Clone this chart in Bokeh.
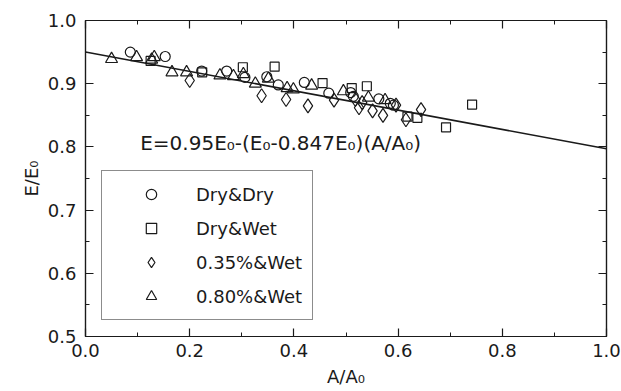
from bokeh.plotting import figure
from bokeh.models import (Range1d, LinearAxis, FixedTicker, PrintfTickFormatter,
                          Legend, LegendItem, CustomJSTickFormatter, Label)
from bokeh.embed import file_html
from bokeh.resources import INLINE

# ---- data ----
dry_dry_x = [0.086, 0.153, 0.223, 0.271, 0.306, 0.348, 0.370, 0.420, 0.467, 0.509, 0.514, 0.563, 0.585, 0.591]
dry_dry_y = [0.950, 0.943, 0.920, 0.920, 0.910, 0.911, 0.898, 0.902, 0.885, 0.886, 0.880, 0.876, 0.869, 0.866]

dry_wet_x = [0.125, 0.224, 0.302, 0.363, 0.455, 0.511, 0.540, 0.618, 0.637, 0.692, 0.742]
dry_wet_y = [0.936, 0.918, 0.926, 0.927, 0.901, 0.893, 0.896, 0.848, 0.846, 0.831, 0.867]

p035_wet_x = [0.200, 0.338, 0.385, 0.427, 0.477, 0.518, 0.525, 0.531, 0.551, 0.571, 0.596, 0.615, 0.644]
p035_wet_y = [0.905, 0.881, 0.875, 0.865, 0.874, 0.875, 0.862, 0.870, 0.857, 0.850, 0.866, 0.843, 0.859]

p080_wet_x = [0.050, 0.098, 0.127, 0.132, 0.166, 0.194, 0.258, 0.284, 0.303, 0.326, 0.351, 0.387, 0.399, 0.434, 0.495, 0.543, 0.575]
p080_wet_y = [0.939, 0.942, 0.938, 0.942, 0.918, 0.918, 0.913, 0.912, 0.915, 0.900, 0.908, 0.893, 0.891, 0.897, 0.888, 0.878, 0.874]

# fitted relation E = 0.95 E0 - (E0 - 0.847 E0)(A/A0)
fit_a = 0.95
fit_b = 0.847
fit_x = [0.0, 1.0]
fit_y = [fit_a - (1.0 - fit_b) * x for x in fit_x]

series_labels = ["Dry&Dry", "Dry&Wet", "0.35%&Wet", "0.80%&Wet"]
x_ticks = [0.0, 0.2, 0.4, 0.6, 0.8, 1.0]
x_minor = [0.1, 0.3, 0.5, 0.7, 0.9]
y_ticks = [0.5, 0.6, 0.7, 0.8, 0.9, 1.0]
y_minor = [0.55, 0.65, 0.75, 0.85, 0.95]

FONT = "DejaVu Sans"
INK = "#1a1a1a"

p = figure(width=621, height=391,
           x_range=Range1d(0, 1), y_range=Range1d(0.5, 1.0),
           output_backend="svg", toolbar_location=None,
           min_border_left=85, min_border_right=15, min_border_top=20, min_border_bottom=55)
p.grid.visible = False
p.outline_line_color = INK
p.outline_line_width = 1.2
p.background_fill_color = "white"
p.border_fill_color = "white"

def style_axis(ax, ticks, minor):
    ax.ticker = FixedTicker(ticks=ticks, minor_ticks=minor)
    ax.axis_line_color = INK
    ax.axis_line_width = 1.2
    ax.major_tick_line_color = INK
    ax.minor_tick_line_color = INK
    ax.major_tick_line_width = 1.2
    ax.minor_tick_line_width = 1.0
    ax.major_tick_in = 8
    ax.major_tick_out = 0
    ax.minor_tick_in = 4
    ax.minor_tick_out = 0
    ax.major_label_text_font = FONT
    ax.major_label_text_font_size = "18px"
    ax.major_label_text_color = INK
    ax.axis_label_text_font = FONT
    ax.axis_label_text_font_size = "18px"
    ax.axis_label_text_font_style = "normal"
    ax.axis_label_text_color = INK

xa = p.xaxis[0]
ya = p.yaxis[0]
style_axis(xa, x_ticks, x_minor)
style_axis(ya, y_ticks, y_minor)
xa.formatter = PrintfTickFormatter(format="%.1f")
ya.formatter = PrintfTickFormatter(format="%.1f")
xa.axis_label = "A/A₀"
ya.axis_label = "E/E₀"
xa.major_label_standoff = 7
xa.axis_label_standoff = 6
ya.major_label_standoff = 9
ya.axis_label_standoff = 3

blank = CustomJSTickFormatter(code="return ''")
top = LinearAxis(formatter=blank, major_label_standoff=0)
right = LinearAxis(formatter=blank, major_label_standoff=0)
style_axis(top, x_ticks, x_minor)
style_axis(right, y_ticks, y_minor)
p.add_layout(top, "above")
p.add_layout(right, "right")

# fit line
p.line(fit_x, fit_y, line_color=INK, line_width=1.5)

common = dict(fill_color=None, line_color=INK, line_width=1.2)
r1 = p.scatter(dry_dry_x, dry_dry_y, marker="circle", size=10, **common)
r2 = p.scatter(dry_wet_x, dry_wet_y, marker="square", size=9, **common)
r3 = p.scatter(p035_wet_x, p035_wet_y, marker="diamond", size=14, **common)
r4 = p.scatter(p080_wet_x, p080_wet_y, marker="triangle", size=12, **common)

legend = Legend(items=[LegendItem(label=lab, renderers=[r]) for lab, r in
                       zip(series_labels, [r1, r2, r3, r4])],
                location=(16, 16), margin=0, padding=10, spacing=8,
                glyph_width=78, glyph_height=26, label_height=26, label_standoff=6,
                label_text_font=FONT, label_text_font_size="18px", label_text_color=INK,
                border_line_color=INK, border_line_width=1.2,
                background_fill_color="white", background_fill_alpha=1.0)
p.add_layout(legend, "center")

eq = Label(x=0.105, y=0.806, text="E=0.95E₀-(E₀-0.847E₀)(A/A₀)",
           text_font=FONT, text_font_size="20px", text_color=INK,
           text_baseline="middle", text_align="left")
p.add_layout(eq)

open("out.html", "w").write(file_html(p, INLINE))
